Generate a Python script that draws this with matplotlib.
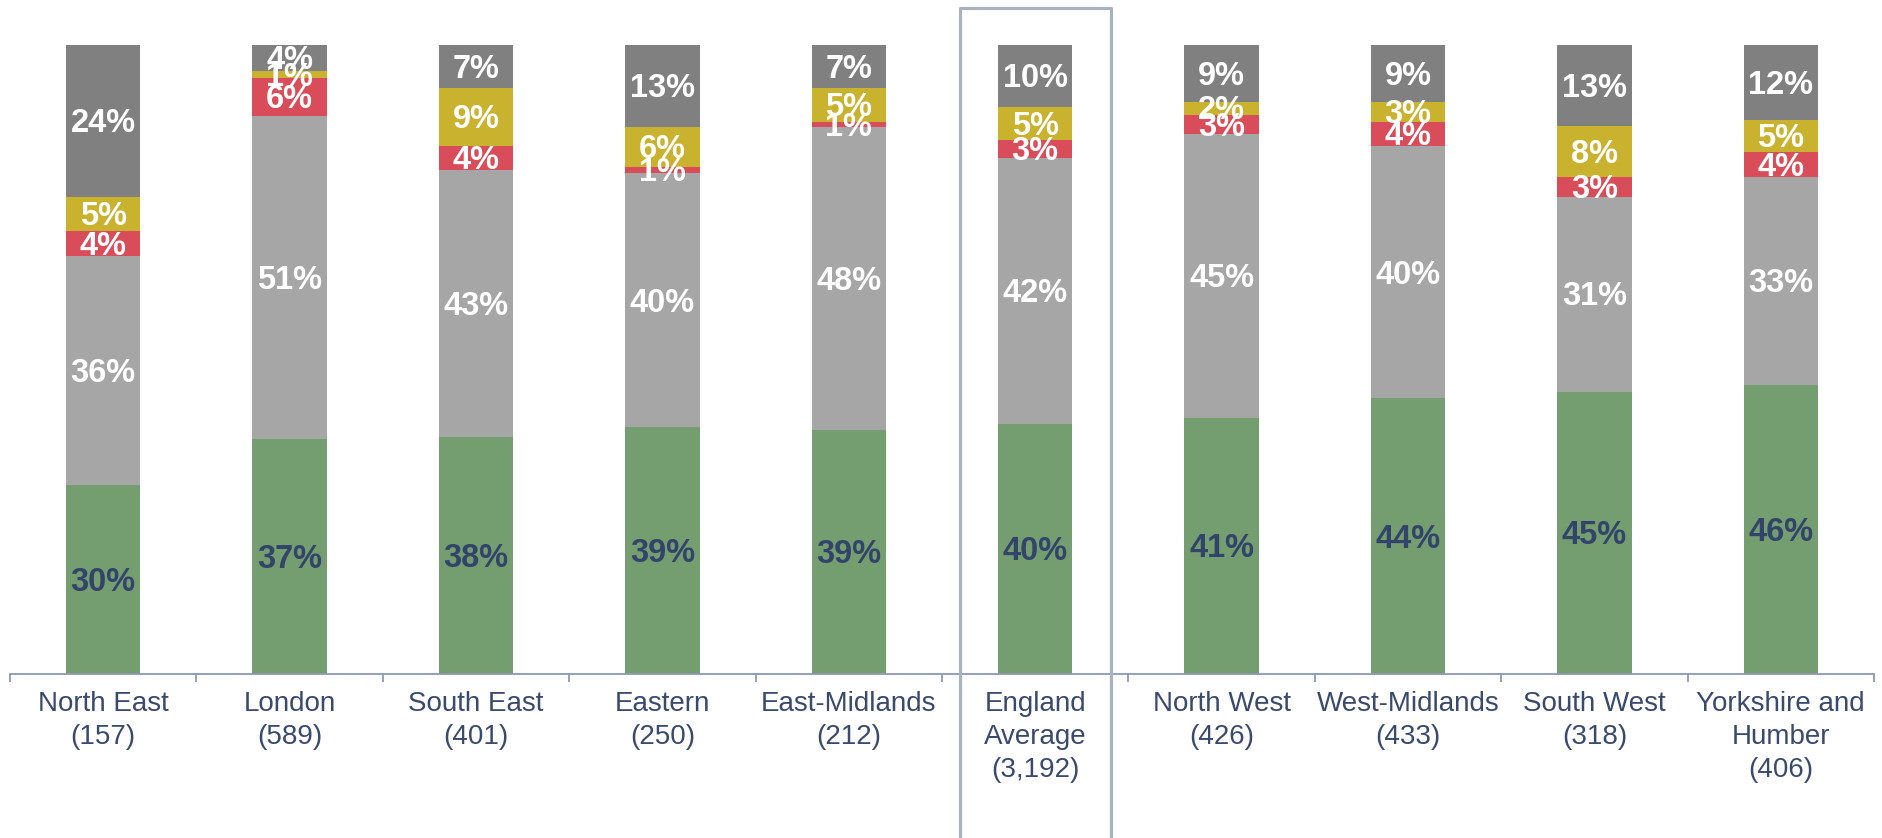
import matplotlib
matplotlib.use("Agg")
import matplotlib.pyplot as plt
import numpy as np
from matplotlib.lines import Line2D

plt.rcParams['font.family'] = ['Liberation Sans', 'DejaVu Sans']

regions = ["North East", "London", "South East", "Eastern", "East-Midlands",
           "England\nAverage", "North West", "West-Midlands", "South West",
           "Yorkshire and\nHumber"]
counts = ["(157)", "(589)", "(401)", "(250)", "(212)", "(3,192)",
          "(426)", "(433)", "(318)", "(406)"]

# Stacked shares (%), bottom to top
green_share = [30.0, 37.3, 37.6, 39.2, 38.8, 39.8, 40.7, 43.8, 44.9, 45.9]
light_share = [36.4, 51.4, 42.6, 40.4, 48.2, 42.2, 45.2, 40.1, 31.0, 33.1]
red_share = [4.1, 6.0, 3.8, 1.0, 0.8, 2.9, 3.0, 3.9, 3.1, 4.0]
yellow_share = [5.3, 1.2, 9.2, 6.3, 5.3, 5.2, 2.1, 3.2, 8.2, 5.0]
dark_share = [24.2, 4.1, 6.8, 13.1, 6.9, 9.9, 9.0, 9.0, 12.8, 12.0]

series = [green_share, light_share, red_share, yellow_share, dark_share]
colors = ["#749E70", "#A6A6A6", "#D94C59", "#C9B22D", "#808080"]
text_colors = ["#33446A", "white", "white", "white", "white"]

highlight = 5  # England Average

fig = plt.figure(figsize=(18.83, 8.38), dpi=100)
ax = fig.add_axes([10 / 1883, 164 / 838, 1864 / 1883, 629 / 838])

x = np.arange(len(regions))
bottom = np.zeros(len(regions))
for vals, col, tcol in zip(series, colors, text_colors):
    vals = np.array(vals)
    ax.bar(x, vals, width=0.40, bottom=bottom, color=col, edgecolor="none", zorder=2)
    for xi, b, v in zip(x, bottom, vals):
        ax.annotate(f"{round(v):d}%", xy=(xi, b + v / 2), xytext=(0, -2),
                    textcoords="offset points", ha="center", va="center",
                    color=tcol, fontsize=23.5, fontweight="bold", zorder=3)
    bottom += vals

ax.set_xlim(-0.5, len(regions) - 0.5)
ax.set_ylim(0, 100)

for s in ["top", "right", "left"]:
    ax.spines[s].set_visible(False)
axis_col = "#8E99B0"
ax.spines["bottom"].set_color(axis_col)
ax.spines["bottom"].set_linewidth(1.3)
ax.set_yticks([])

ax.set_xticks(x)
ax.set_xticklabels([f"{r}\n{c}" for r, c in zip(regions, counts)],
                   fontsize=20, color="#3A4A6C", linespacing=1.35)
ax.tick_params(axis="x", which="major", length=0, pad=12)
ax.set_xticks(np.arange(-0.5, len(regions)), minor=True)
ax.tick_params(axis="x", which="minor", length=6, width=1.3, color=axis_col)

# Frame around the England average column
hx0, hx1 = highlight - 0.405, highlight + 0.405
frame = Line2D([hx0, hx0, hx1, hx1], [-60, 105.9, 105.9, -60],
               color="#A8B3BE", lw=2.3, solid_joinstyle="round",
               clip_on=False, zorder=4)
ax.add_line(frame)

fig.savefig("out.png", dpi=100, facecolor="white")
